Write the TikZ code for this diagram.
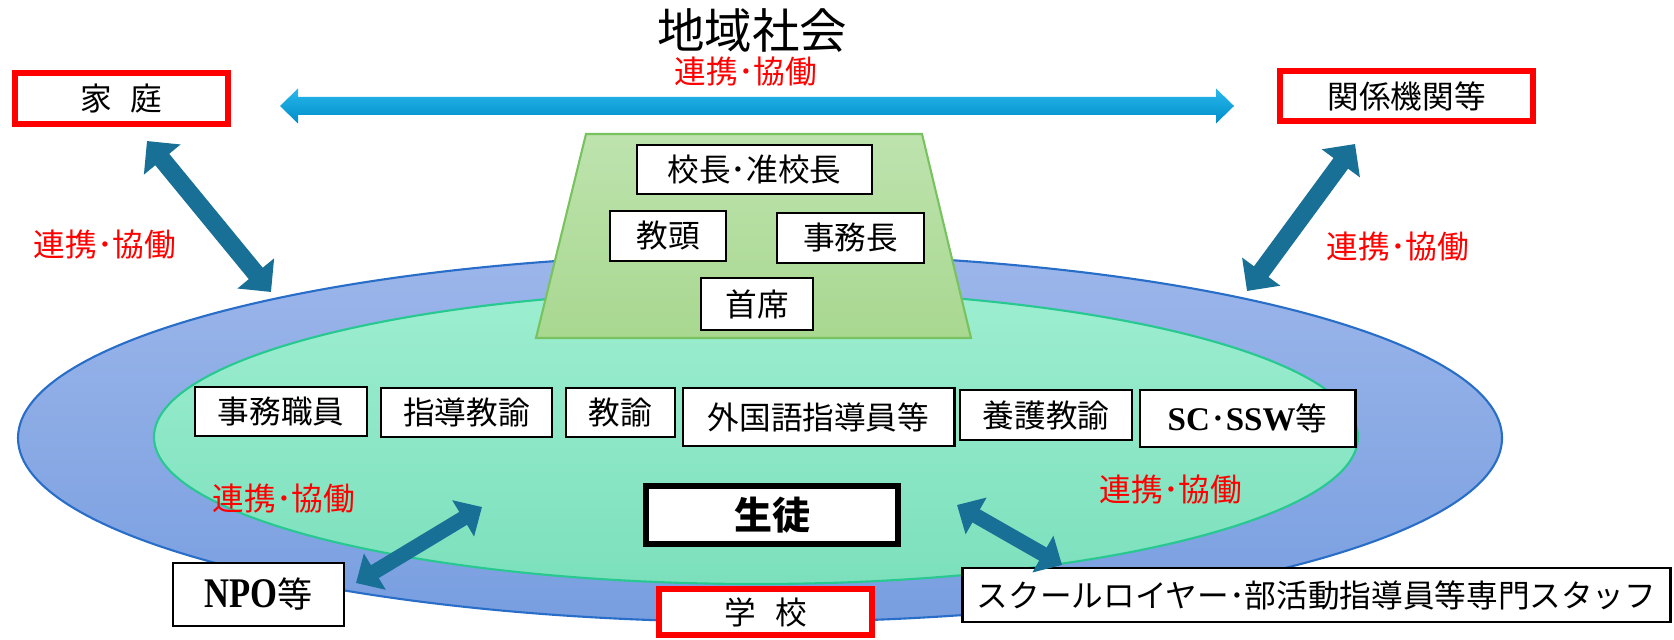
\documentclass[tikz,border=0pt]{standalone}
\usepackage{fontspec}
\setmainfont{Noto Sans CJK JP}
\newfontfamily\latb{Liberation Serif}
\newfontfamily\latbn[FakeStretch=0.82]{Liberation Serif}
\usetikzlibrary{arrows.meta,calc}
\definecolor{arrowteal}{RGB}{24,112,150}
\definecolor{hblueT}{RGB}{40,185,236}
\definecolor{hblueB}{RGB}{0,140,200}
\definecolor{outerT}{RGB}{156,182,234}
\definecolor{outerB}{RGB}{120,158,224}
\definecolor{outerD}{RGB}{40,110,200}
\definecolor{innerT}{RGB}{157,238,208}
\definecolor{innerB}{RGB}{124,224,188}
\definecolor{innerD}{RGB}{40,200,145}
\definecolor{trapT}{RGB}{190,227,174}
\definecolor{trapB}{RGB}{168,216,144}
\definecolor{trapD}{RGB}{120,195,95}
\tikzset{
  box/.style={draw=black, line width=0.8pt, fill=white, inner sep=0pt, text=black,
    font=\fontsize{9pt}{10pt}\selectfont},
  redbox/.style={box, draw=red, line width=1.6pt},
  redlbl/.style={text=red, inner sep=0pt, font=\fontsize{9pt}{10pt}\selectfont},
  bigarrow/.style={draw=arrowteal, line width=0.18cm,
    {Triangle[length=0.24cm,width=0.46cm]}-{Triangle[length=0.24cm,width=0.46cm]}},
  smallarrow/.style={draw=arrowteal, line width=0.15cm,
    {Triangle[length=0.22cm,width=0.41cm]}-{Triangle[length=0.22cm,width=0.41cm]}},
}
\begin{document}
\begin{tikzpicture}[x=0.01cm,y=-0.01cm]
\useasboundingbox (0,0) rectangle (1674,640);

% ellipses
\shade[top color=outerT, bottom color=outerB, draw=outerD, line width=0.6pt]
  (760,438) ellipse [x radius=742, y radius=184];
\shade[top color=innerT, bottom color=innerB, draw=innerD, line width=0.6pt]
  (756,437) ellipse [x radius=602, y radius=147];

% trapezoid
\shade[top color=trapT, bottom color=trapB, draw=trapD, line width=0.6pt]
  (586,134) -- (922,134) -- (971,338) -- (536,338) -- cycle;

% title and labels
\node[inner sep=0pt, font=\fontsize{13.5pt}{15pt}\selectfont] (title) at (752,31) {地域社会};
\node[redlbl] (ltop) at (746,72) {連携･協働};
\node[redlbl] (lleft) at (105,245) {連携･協働};
\node[redlbl] (lright) at (1398,247) {連携･協働};
\node[redlbl] (llowl) at (284,499) {連携･協働};
\node[redlbl] (llowr) at (1171,490) {連携･協働};

% outer boxes
\node[redbox, minimum width=2.13cm, minimum height=0.51cm] (katei) at (121.5,98.5) {家\hspace{0.6em}庭};
\node[redbox, minimum width=2.53cm, minimum height=0.50cm] (kankei) at (1406.5,96) {関係機関等};
\node[redbox, minimum width=2.13cm, minimum height=0.46cm] (gakko) at (765.5,612) {学\hspace{0.6em}校};

% management boxes
\node[box, minimum width=2.35cm, minimum height=0.49cm] (kocho) at (754.5,169.5) {校長･准校長};
\node[box, minimum width=1.16cm, minimum height=0.50cm] (kyoto) at (668,236) {教頭};
\node[box, minimum width=1.47cm, minimum height=0.50cm] (jimucho) at (850.5,238) {事務長};
\node[box, minimum width=1.12cm, minimum height=0.52cm] (shuseki) at (757,304) {首席};

% staff row
\node[box, minimum width=1.72cm, minimum height=0.49cm] (jimushoku) at (281,411.5) {事務職員};
\node[box, minimum width=1.71cm, minimum height=0.49cm] (shido) at (466.5,412.5) {指導教諭};
\node[box, minimum width=1.09cm, minimum height=0.49cm] (kyoyu) at (620.5,412.5) {教諭};
\node[box, minimum width=2.71cm, minimum height=0.58cm] (gaikoku) at (818.5,417) {外国語指導員等};
\node[box, minimum width=1.72cm, minimum height=0.50cm] (yogo) at (1046,415) {養護教諭};
\node[box, minimum width=2.15cm, minimum height=0.57cm] (scssw) at (1247.5,418.5)
  {{\fontsize{9.4pt}{10pt}\latb\bfseries SC}･{\fontsize{9.4pt}{10pt}\latb\bfseries SSW}等};

% students
\node[box, line width=1.7pt, minimum width=2.52cm, minimum height=0.58cm,
  font=\fontsize{10.8pt}{12pt}\selectfont\bfseries] (seito) at (772,515) {生徒};

% external boxes
\node[box, minimum width=1.71cm, minimum height=0.63cm] (npo) at (258.5,594.5)
  {{\fontsize{12pt}{13pt}\latbn\bfseries NPO}{\fontsize{10pt}{12pt}\selectfont 等}};
\node[box, minimum width=7.07cm, minimum height=0.54cm] (staff) at (1316.5,595)
  {スクールロイヤー･部活動指導員等専門スタッフ};

% horizontal arrow
\coordinate (hl) at (280,106);
\coordinate (hr) at (1234,106);
\shade[top color=hblueT, bottom color=hblueB]
  (hl) -- ($(hl)+(18,-17.5)$) -- ($(hl)+(18,-9)$) -- ($(hr)+(-18,-9)$) -- ($(hr)+(-18,-17.5)$)
  -- (hr) -- ($(hr)+(-18,17.5)$) -- ($(hr)+(-18,9)$) -- ($(hl)+(18,9)$) -- ($(hl)+(18,17.5)$) -- cycle;

% diagonal arrows
\coordinate (a1s) at (147,141);
\coordinate (a1e) at (271,292);
\coordinate (a2s) at (1355,144);
\coordinate (a2e) at (1247,291);
\coordinate (a3s) at (482,507);
\coordinate (a3e) at (356,583);
\coordinate (a4s) at (957,505);
\coordinate (a4e) at (1062,565);
\draw[bigarrow] (a1s) -- (a1e);
\draw[bigarrow] (a2s) -- (a2e);
\draw[smallarrow] (a3s) -- (a3e);
\draw[smallarrow] (a4s) -- (a4e);
\end{tikzpicture}
\end{document}
